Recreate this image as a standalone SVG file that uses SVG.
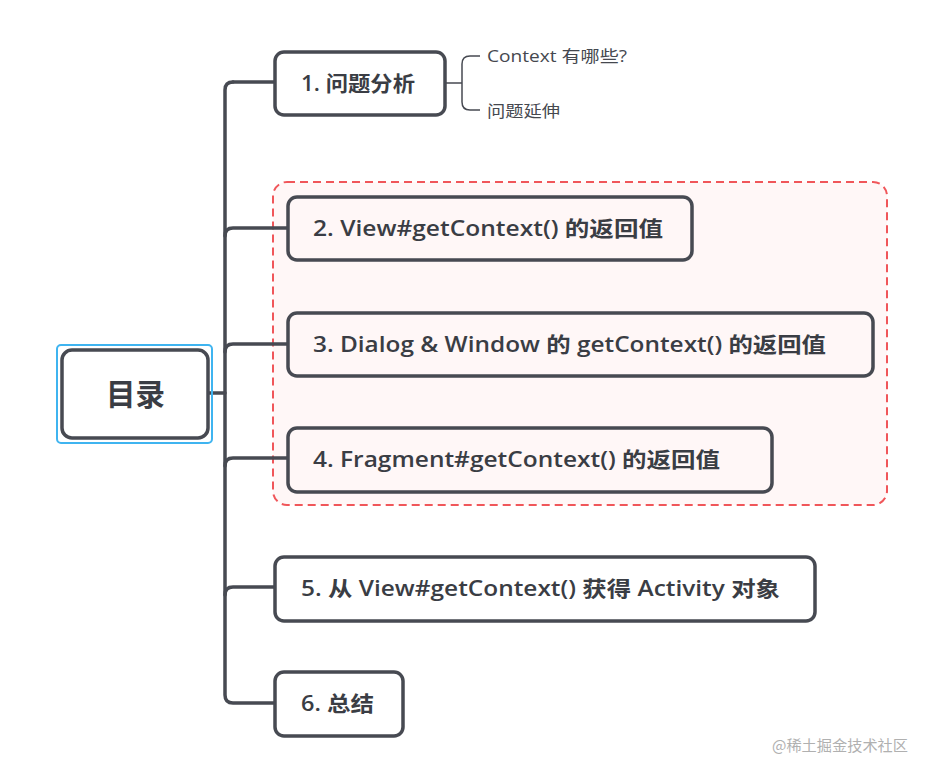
<svg xmlns="http://www.w3.org/2000/svg" width="934" height="776" viewBox="0 0 934 776">
<style>
.box{fill:#ffffff;stroke:#474a52;stroke-width:3.5}
.pbox{fill:#fff7f7;stroke:#474a52;stroke-width:3.5}
.ln{fill:none;stroke:#474a52;stroke-width:3.5;stroke-linecap:round}
.thin{fill:none;stroke:#474a52;stroke-width:1.5}
.t{font-family:"Open Sans","Noto Sans CJK SC",sans-serif;font-weight:600;font-size:21px;fill:#3a3d44}
.s{font-family:"Open Sans","Noto Sans CJK SC",sans-serif;font-size:16px;fill:#45484f}
</style>
<rect width="934" height="776" fill="#ffffff"/>
<g id="group-box">
<rect x="273" y="182" width="614" height="323" rx="14" fill="#fff7f7" stroke="#f0565a" stroke-width="2" stroke-dasharray="8 5"/>
</g>
<g id="connectors">
<path class="ln" d="M233 82 Q225 82 225 90 L225 695 Q225 703 233 703 L275 703"/>
<path class="ln" d="M233 82 L275 82"/>
<path class="ln" d="M225 236 Q225 228 233 228 L288 228"/>
<path class="ln" d="M225 352 Q225 344 233 344 L288 344"/>
<path class="ln" d="M225 466 Q225 458 233 458 L288 458"/>
<path class="ln" d="M225 595 Q225 587 233 587 L275 587"/>
<path class="ln" d="M208 393 L225 393"/>
<path class="thin" d="M445 83 L462 83 M480 56 L470 56 Q462 56 462 64 L462 102 Q462 110 470 110 L480 110"/>
</g>
<g id="root">
<rect x="57" y="345" width="155" height="98" rx="4" fill="none" stroke="#3fb4f0" stroke-width="2"/>
<rect class="box" x="62" y="350" width="146" height="88" rx="10"/>
<text class="t" x="106" y="405" textLength="59" lengthAdjust="spacingAndGlyphs" style="font-size:30px">目录</text>
</g>
<g id="n1">
<rect class="box" x="275" y="52" width="170" height="63" rx="9"/>
<text class="t" x="301" y="91" textLength="114" lengthAdjust="spacingAndGlyphs">1. 问题分析</text>
</g>
<g id="n1a"><text class="s" x="487" y="62" textLength="140" lengthAdjust="spacingAndGlyphs">Context 有哪些?</text></g>
<g id="n1b"><text class="s" x="487" y="117" textLength="73" lengthAdjust="spacingAndGlyphs">问题延伸</text></g>
<g id="n2">
<rect class="pbox" x="288" y="197" width="404" height="63" rx="9"/>
<text class="t" x="313" y="236" textLength="350" lengthAdjust="spacingAndGlyphs">2. View#getContext() 的返回值</text>
</g>
<g id="n3">
<rect class="pbox" x="288" y="313" width="585" height="63" rx="9"/>
<text class="t" x="313" y="352" textLength="513" lengthAdjust="spacingAndGlyphs">3. Dialog &amp; Window 的 getContext() 的返回值</text>
</g>
<g id="n4">
<rect class="pbox" x="288" y="428" width="484" height="64" rx="9"/>
<text class="t" x="313" y="467" textLength="407" lengthAdjust="spacingAndGlyphs">4. Fragment#getContext() 的返回值</text>
</g>
<g id="n5">
<rect class="box" x="275" y="557" width="540" height="64" rx="9"/>
<text class="t" x="301" y="596" textLength="479" lengthAdjust="spacingAndGlyphs">5. 从 View#getContext() 获得 Activity 对象</text>
</g>
<g id="n6">
<rect class="box" x="275" y="672" width="128" height="64" rx="9"/>
<text class="t" x="301" y="711" textLength="73" lengthAdjust="spacingAndGlyphs">6. 总结</text>
</g>
<text x="772" y="751" textLength="136" lengthAdjust="spacingAndGlyphs" style="font-family:'Noto Sans CJK SC',sans-serif;font-size:15px;fill:#b0b0b0">@稀土掘金技术社区</text>
</svg>
